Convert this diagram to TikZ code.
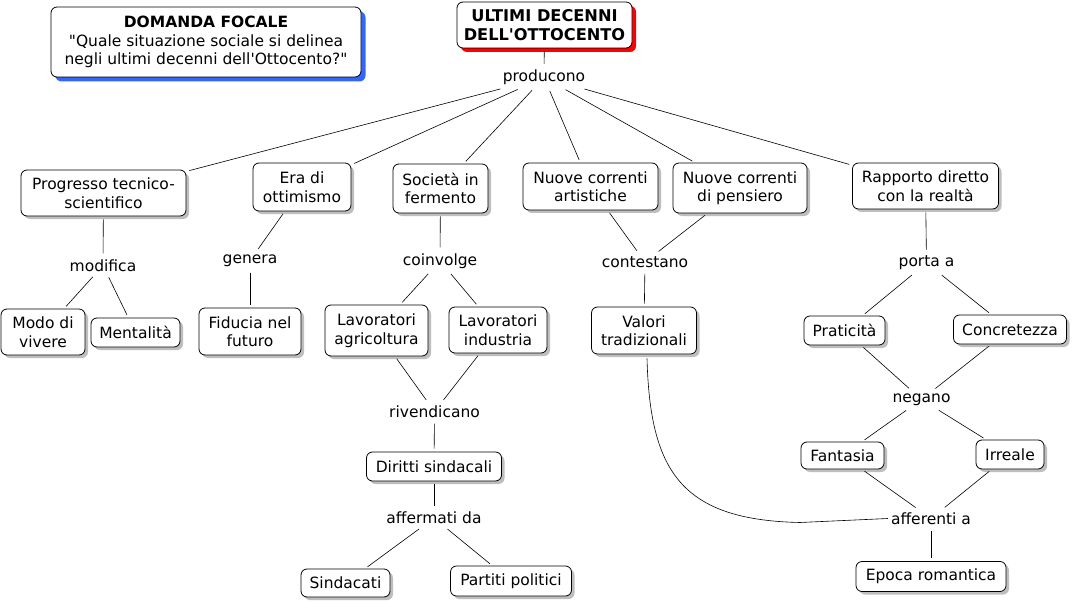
\documentclass[tikz,border=0pt]{standalone}
\usepackage{fontspec}
\setmainfont{DejaVu Sans}[Ligatures=TeXOff]
\usetikzlibrary{shadows}
\definecolor{shblue}{RGB}{51,102,255}
\definecolor{shgray}{RGB}{190,190,190}
\newcommand\fsz{\fontsize{15.5}{18.5}\selectfont}
\newcommand\fszroot{\fontsize{16.2}{19.5}\selectfont}
\begin{document}
\begin{tikzpicture}[x=1pt,y=-1pt,
  box/.style={draw=black, line width=0.8pt, rounded corners=6pt, fill=white,
    align=center, font=\fsz, inner sep=0pt,
    drop shadow={shadow xshift=3pt, shadow yshift=-3pt, fill=shgray, opacity=1}},
  focal/.style={box, drop shadow={shadow xshift=4.5pt, shadow yshift=-4.5pt, fill=shblue, opacity=1}},
  rootbox/.style={box, font=\fszroot\bfseries, drop shadow={shadow xshift=4pt, shadow yshift=-4pt, fill=red, opacity=1}},
  lab/.style={font=\fsz, inner sep=3pt, yshift=-1.5pt},
  conn/.style={line width=0.6pt, draw=black}
]
\fill[white] (0,0) rectangle (1073,604);
\useasboundingbox (0,0) rectangle (1073,604);

% main nodes
\node[focal, minimum width=310pt, minimum height=70pt] (focal) at (206,42)
  {\textbf{DOMANDA FOCALE}\\"Quale situazione sociale si delinea\\negli ultimi decenni dell'Ottocento?"};
\node[rootbox, minimum width=175pt, minimum height=46pt] (root) at (544.5,25) {ULTIMI DECENNI\\DELL'OTTOCENTO};

% concepts
\node[box, minimum width=165pt, minimum height=46pt] (prog) at (103.5,193) {Progresso tecnico-\\scientifico};
\node[box, minimum width=98pt, minimum height=48pt] (era) at (302,187) {Era di\\ottimismo};
\node[box, minimum width=95pt, minimum height=49pt] (soc) at (440.5,188.5) {Società in\\fermento};
\node[box, minimum width=135pt, minimum height=47pt] (art) at (590.5,186.5) {Nuove correnti\\artistiche};
\node[box, minimum width=134pt, minimum height=50pt] (pens) at (740,188) {Nuove correnti\\di pensiero};
\node[box, minimum width=146pt, minimum height=46pt] (rapp) at (925.5,186) {Rapporto diretto\\con la realtà};

\node[box, minimum width=84pt, minimum height=46pt] (modo) at (43,332) {Modo di\\vivere};
\node[box, minimum width=89pt, minimum height=29pt] (ment) at (135.5,332.5) {Mentalità};
\node[box, minimum width=102pt, minimum height=47pt] (fid) at (250,331.5) {Fiducia nel\\futuro};
\node[box, minimum width=103pt, minimum height=51pt] (lagr) at (376.5,330.5) {Lavoratori\\agricoltura};
\node[box, minimum width=98pt, minimum height=46pt] (lind) at (498,330) {Lavoratori\\industria};
\node[box, minimum width=135pt, minimum height=29pt] (dir) at (434,466.5) {Diritti sindacali};
\node[box, minimum width=89pt, minimum height=28pt] (sind) at (345.5,583) {Sindacati};
\node[box, minimum width=121pt, minimum height=30pt] (part) at (511,581) {Partiti politici};
\node[box, minimum width=105pt, minimum height=47pt] (val) at (644,330.5) {Valori\\tradizionali};
\node[box, minimum width=81pt, minimum height=29pt] (prat) at (844.5,330.5) {Praticità};
\node[box, minimum width=113pt, minimum height=29pt] (conc) at (1010,329.5) {Concretezza};
\node[box, minimum width=83pt, minimum height=27pt] (fant) at (842.5,455.5) {Fantasia};
\node[box, minimum width=68pt, minimum height=29pt] (irr) at (1010,454.5) {Irreale};
\node[box, minimum width=150pt, minimum height=30pt] (epoca) at (931,576.5) {Epoca romantica};

% linking phrases
\node[lab] (prod) at (544,76) {producono};
\node[lab] (modif) at (103,264) {modifica};
\node[lab] (gen) at (250,259) {genera};
\node[lab] (coinv) at (440,259.5) {coinvolge};
\node[lab] (riv) at (434.5,410) {rivendicano};
\node[lab] (aff) at (434,516.5) {affermati da};
\node[lab] (cont) at (645,260.5) {contestano};
\node[lab] (porta) at (926.5,261.5) {porta a};
\node[lab] (neg) at (921.5,398) {negano};
\node[lab] (afer) at (931,517) {afferenti a};

% connectors
\begin{scope}[every path/.style={conn}, shorten <=3pt, shorten >=3pt]
\draw (root) -- (prod);
\foreach \t in {prog,era,soc,art,pens,rapp} \draw (prod) -- (\t);
\draw (prog) -- (modif);
\draw (modif) -- (modo);
\draw (modif) -- (ment);
\draw (era) -- (gen);
\draw (gen) -- (fid);
\draw (soc) -- (coinv);
\draw (coinv) -- (lagr);
\draw (coinv) -- (lind);
\draw (lagr) -- (riv);
\draw (lind) -- (riv);
\draw (riv) -- (dir);
\draw (dir) -- (aff);
\draw (aff) -- (sind);
\draw (aff) -- (part);
\draw (art) -- (cont);
\draw (pens) -- (cont);
\draw (cont) -- (val);
\draw (rapp) -- (porta);
\draw (porta) -- (prat);
\draw (porta) -- (conc);
\draw (prat) -- (neg);
\draw (conc) -- (neg);
\draw (neg) -- (fant);
\draw (neg) -- (irr);
\draw (fant) -- (afer);
\draw (irr) -- (afer);
\draw (afer) -- (epoca);
\end{scope}
\coordinate (cv) at (800,522.5);
\draw[conn] ([xshift=3pt,yshift=-4pt]val.south) .. controls (650,470) and (680,520) .. (cv) -- (afer.west);
\end{tikzpicture}
\end{document}
